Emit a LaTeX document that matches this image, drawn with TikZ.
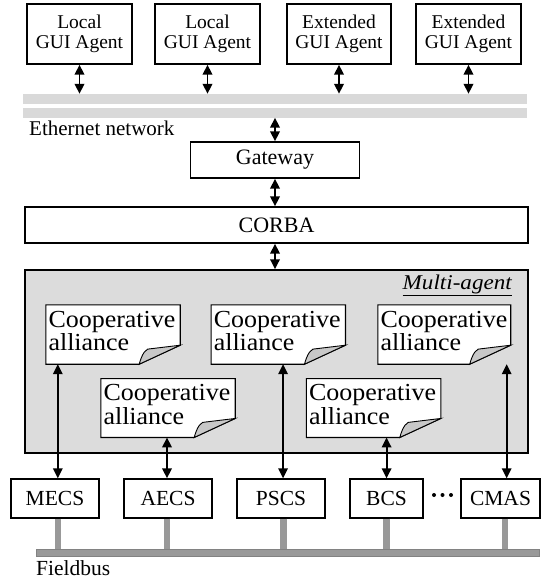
\documentclass[tikz,border=0pt]{standalone}
\usepackage{fontspec}
\setmainfont{Liberation Serif}
\newfontfamily\notefont[FakeStretch=1.06]{Liberation Serif}
\newfontfamily\mafont[FakeStretch=1.1]{Liberation Serif}
\usetikzlibrary{arrows.meta}
\definecolor{barcol}{HTML}{D9D9D9}
\definecolor{macol}{HTML}{DCDCDC}
\definecolor{buscol}{HTML}{999999}
\definecolor{foldcol}{HTML}{C8C8C8}
\begin{document}
\begin{tikzpicture}[x=1pt,y=-1pt,
  box/.style={draw,line width=1.4pt,fill=white,inner sep=0pt,align=center},
  topbox/.style={box,minimum height=60pt,font=\fontsize{19.5}{20}\selectfont},
  botbox/.style={box,minimum height=39pt,font=\fontsize{21.5}{22}\selectfont},
  bar/.style={fill=barcol,inner sep=0pt,minimum height=10pt,minimum width=504pt},
  dbl/.style={line width=1.8pt,{Triangle[length=10pt,width=9.5pt]}-{Triangle[length=10pt,width=9.5pt]}},
  notebox/.style={inner sep=0pt,minimum width=134pt,minimum height=59pt},
  notetext/.style={anchor=north west,inner sep=0pt,align=left,font=\notefont\fontsize{24.5}{20.5}\selectfont},
  stub/.style={line width=6.5pt,buscol}
]
\useasboundingbox (0,0) rectangle (542,581);

% top agents
\node[topbox,minimum width=105pt] (g1) at (79.5,34) {Local\\GUI Agent};
\node[topbox,minimum width=105pt] (g2) at (207.5,34) {Local\\GUI Agent};
\node[topbox,minimum width=104pt] (g3) at (339,34) {Extended\\GUI Agent};
\node[topbox,minimum width=105pt] (g4) at (468.5,34) {Extended\\GUI Agent};

% ethernet bars
\node[bar] (bar1) at (275.25,99) {};
\node[bar] (bar2) at (275.25,112.5) {};
\node[anchor=base west,inner sep=0pt,font=\fontsize{21}{21}\selectfont] (eth) at (29,135) {Ethernet network};

\foreach \g in {g1,g2,g3,g4}
  \draw[dbl] (\g.south) -- (\g.south |- bar1.north);

% gateway and corba
\node[box,minimum width=169pt,minimum height=36pt,font=\fontsize{22}{22}\selectfont] (gw) at (275,160) {Gateway};
\node[box,minimum width=503pt,minimum height=36pt,font=\fontsize{22}{22}\selectfont] (corba) at (276.5,225) {CORBA};
\draw[dbl] (gw.north |- bar2.south) -- (gw.north);
\draw[dbl] (gw.south) -- (gw.south |- corba.north);

% multi-agent
\node[draw,line width=1.5pt,fill=macol,inner sep=0pt,minimum width=503pt,minimum height=183pt] (ma) at (276.5,361.5) {};
\draw[dbl] (gw.south |- corba.south) -- (gw.south |- ma.north);
\node[anchor=base east,inner sep=0pt,font=\mafont\itshape\fontsize{21}{21}\selectfont] (malabel) at (512,289) {\underline{Multi-agent}};

% notes
\node[notebox] (n1) at (113,334.5) {};
\node[notebox] (n2) at (278.25,334.5) {};
\node[notebox,minimum width=132.5pt] (n3) at (444.25,334.5) {};
\node[notebox,minimum height=58.5pt] (n4) at (168,408) {};
\node[notebox,minimum height=58.5pt] (n5) at (373.6,408) {};
\foreach \n in {n1,n2,n3,n4,n5}{
  \draw[line width=1.1pt,fill=white] (\n.north west) -- (\n.north east) -- ([yshift=19pt]\n.south east)
     -- ([xshift=-41pt]\n.south east) -- (\n.south west) -- cycle;
  \draw[line width=0.9pt,fill=foldcol] ([xshift=-41pt]\n.south east)
     .. controls +(3pt,11pt) and +(-5pt,1pt) .. ([xshift=-29pt,yshift=15.5pt]\n.south east)
     -- ([yshift=19pt]\n.south east) -- cycle;
  \node[notetext] at ([xshift=2.5pt,yshift=-6pt]\n.north west) {Cooperative\\alliance};
}

% bottom controllers
\node[botbox,minimum width=88pt] (mecs) at (55,498.5) {MECS};
\node[botbox,minimum width=88pt] (aecs) at (168,498.5) {AECS};
\node[botbox,minimum width=88pt] (pscs) at (281,498.5) {PSCS};
\node[botbox,minimum width=73pt] (bcs) at (386.5,498.5) {BCS};
\node[botbox,minimum width=79pt] (cmas) at (500.5,498.5) {CMAS};
\foreach \x in {434,442.5,451} \fill (\x,495) circle (2pt);

% arrows between alliances and controllers
\draw[dbl] ([xshift=12pt]n1.south west) -- ([xshift=12pt]n1.south west |- mecs.north);
\draw[dbl] ([xshift=-1pt]n4.south) -- ([xshift=-1pt]n4.south |- aecs.north);
\draw[dbl] ([xshift=72pt]n2.south west) -- ([xshift=72pt]n2.south west |- pscs.north);
\draw[dbl] ([xshift=13pt]n5.south) -- ([xshift=13pt]n5.south |- bcs.north);
\draw[dbl] ([xshift=-4pt]n3.south east) -- ([xshift=-4pt]n3.south east |- cmas.north);

% fieldbus
\node[fill=buscol,draw=buscol!85!black,line width=0.4pt,inner sep=0pt,minimum width=503pt,minimum height=7pt] (bus) at (287.5,552.5) {};
\draw[stub] ([xshift=3pt]mecs.south) -- ([xshift=3pt]mecs.south |- bus.north);
\draw[stub] ([xshift=-1pt]aecs.south) -- ([xshift=-1pt]aecs.south |- bus.north);
\draw[stub] ([xshift=2.4pt]pscs.south) -- ([xshift=2.4pt]pscs.south |- bus.north);
\draw[stub] (bcs.south) -- (bcs.south |- bus.north);
\draw[stub] ([xshift=4.5pt]cmas.south) -- ([xshift=4.5pt]cmas.south |- bus.north);
\node[anchor=base west,inner sep=0pt,font=\fontsize{21.5}{22}\selectfont] (fb) at (36,575) {Fieldbus};
\end{tikzpicture}
\end{document}
